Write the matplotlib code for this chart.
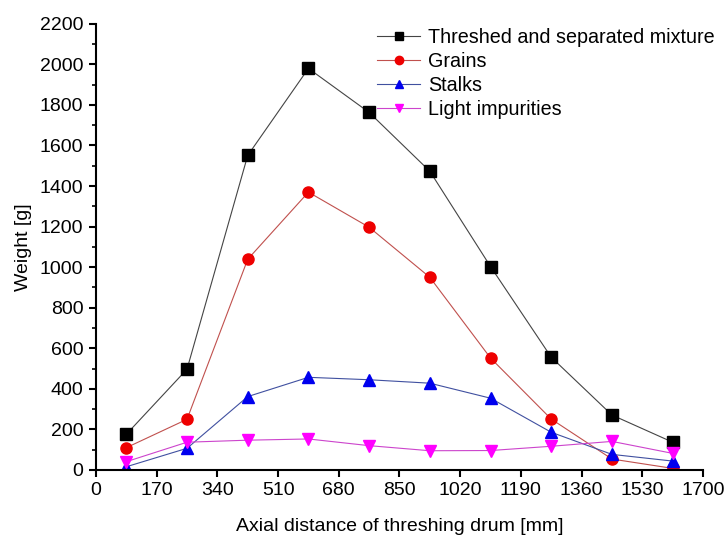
import numpy as np
import matplotlib.pyplot as plt

plt.rcParams['font.family'] = ['Liberation Sans', 'DejaVu Sans']

# ---------------------------------------------------------
# Data
# ---------------------------------------------------------
distance = [85, 255, 425, 595, 765, 935, 1105, 1275, 1445, 1615]
mixture = [176, 497, 1551, 1980, 1763, 1473, 1003, 556, 271, 137]
grains = [110, 250, 1039, 1370, 1197, 950, 552, 251, 54, 8]
stalks = [16, 107, 362, 457, 445, 428, 354, 186, 77, 44]
impurities = [41, 137, 147, 153, 120, 95, 96, 117, 141, 82]

xticks = np.arange(0, 1701, 170)
yticks = np.arange(0, 2201, 200)

# ---------------------------------------------------------
# Plot
# ---------------------------------------------------------
fig = plt.figure(figsize=(7.27, 5.35), dpi=100)
ax = fig.add_axes([0.132, 0.1215, 0.835, 0.834])

series = [
    (mixture, "s", "black", "#444444", "Threshed and separated mixture"),
    (grains, "o", "#ee0000", "#c0504d", "Grains"),
    (stalks, "^", "#0000ee", "#4050a0", "Stalks"),
    (impurities, "v", "#ff00ff", "#cc44cc", "Light impurities"),
]
for vals, mk, mcol, lcol, label in series:
    ax.plot(distance, vals, color=lcol, lw=0.8, marker=mk, markersize=8,
            markerfacecolor=mcol, markeredgecolor=mcol, label=label)

ax.set_xlim(0, 1700)
ax.set_ylim(0, 2200)
ax.set_xticks(xticks)
ax.set_yticks(yticks)
ax.set_yticks(np.arange(100, 2200, 200), minor=True)

for s in ["top", "right"]:
    ax.spines[s].set_visible(False)
for s in ["left", "bottom"]:
    ax.spines[s].set_linewidth(1.5)

ax.tick_params(axis="both", which="major", direction="out", length=5, width=1.5,
               labelsize=14, colors="black", pad=4)
ax.tick_params(axis="y", which="minor", direction="out", length=3, width=1.2)

ax.set_xlabel("Axial distance of threshing drum [mm]", fontsize=14, labelpad=13)
ax.set_ylabel("Weight [g]", fontsize=14, labelpad=6)

fig.legend(loc="upper right", bbox_to_anchor=(715 / 727, 1 - 28 / 535),
           frameon=False, fontsize=14.2, handlelength=2.2, handletextpad=0.4,
           labelspacing=0.25, borderaxespad=0, borderpad=0, markerscale=0.75)

fig.savefig("out.png", dpi=100)
